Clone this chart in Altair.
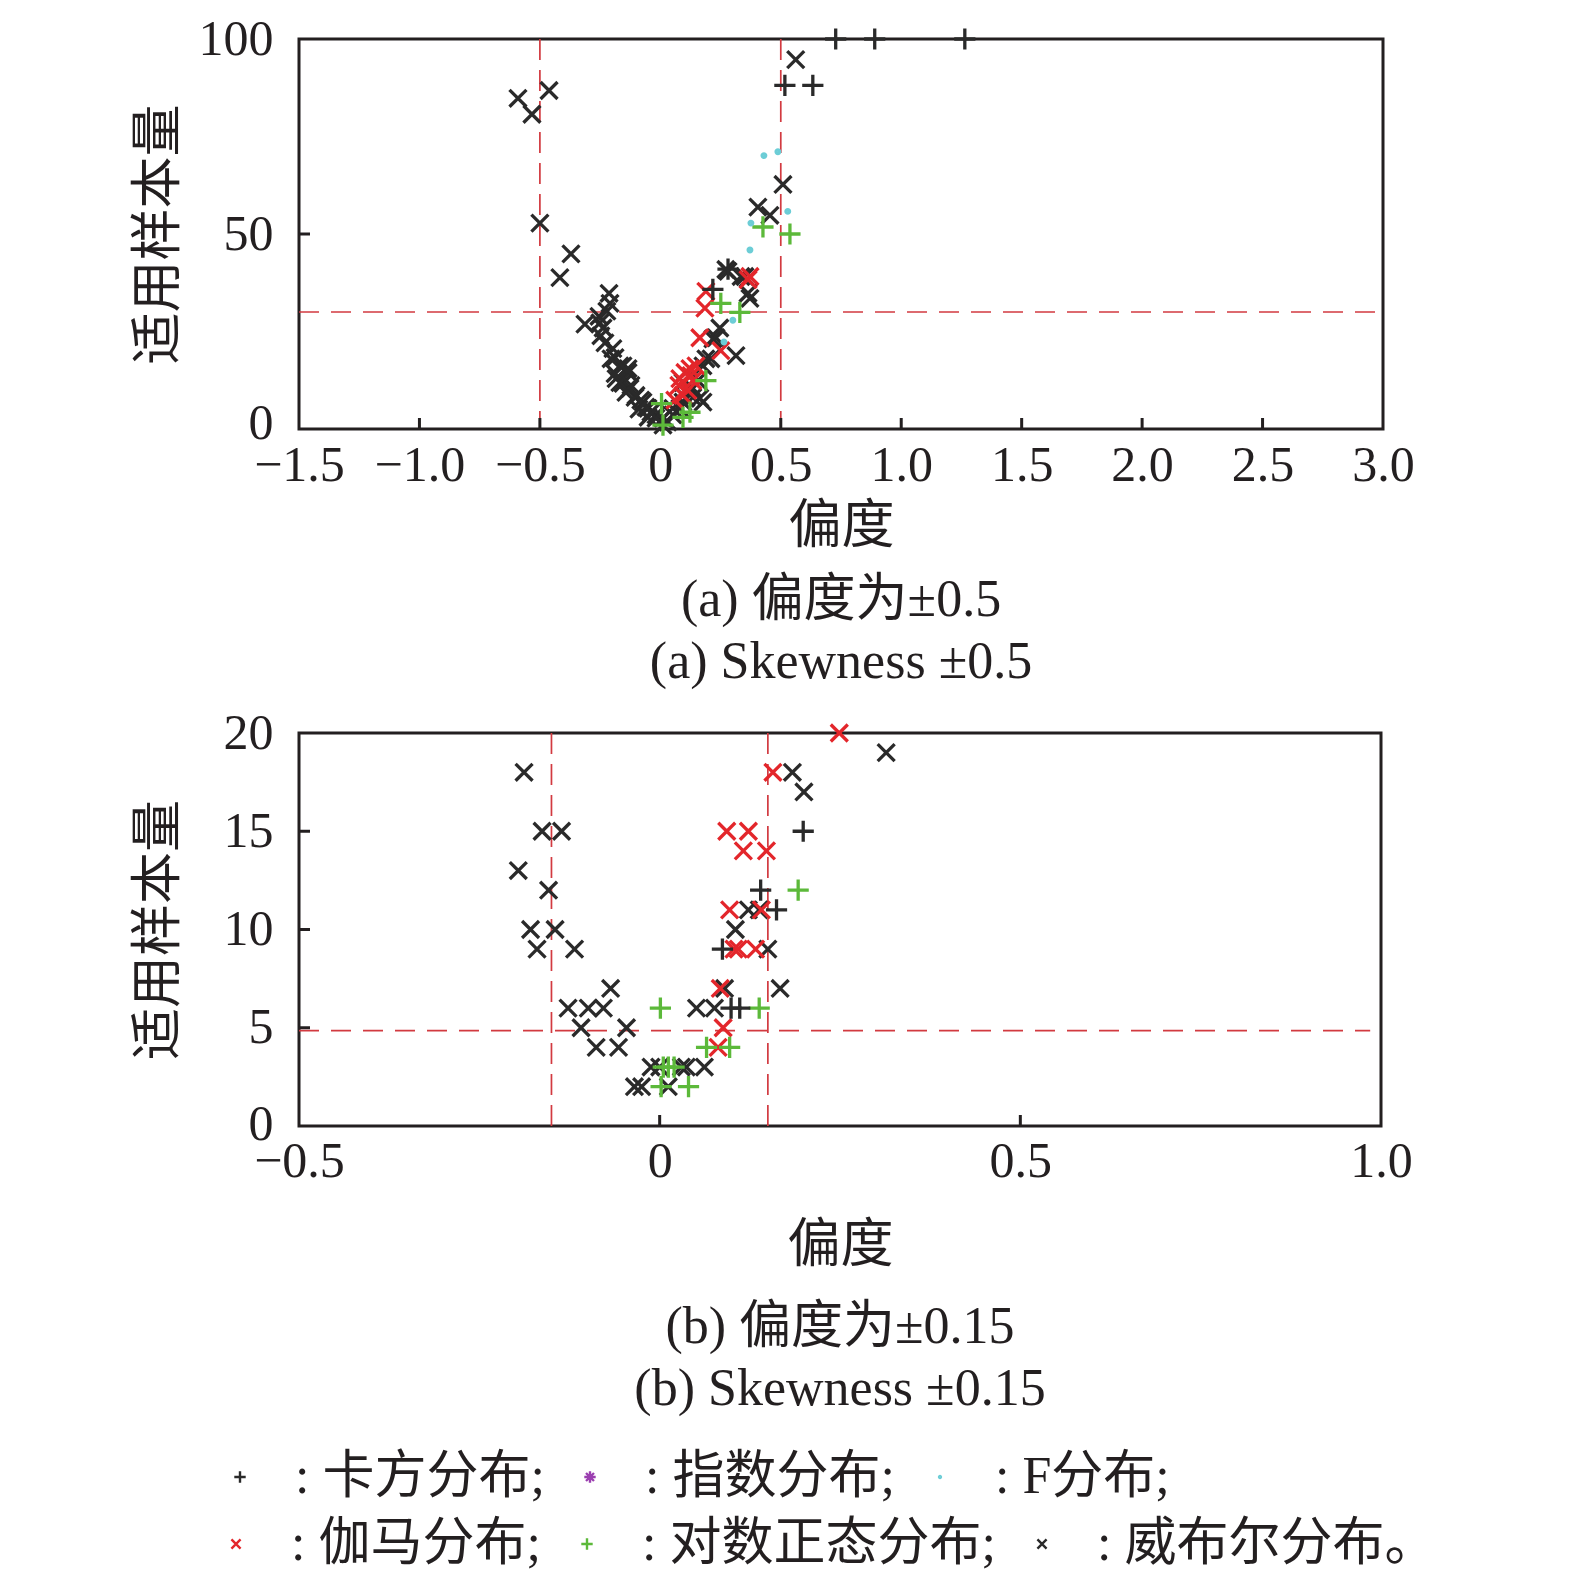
import altair as alt
import pandas as pd

# ---------------- data ----------------
DISTS = ["卡方分布", "指数分布", "F分布", "伽马分布", "对数正态分布", "威布尔分布"]
ROW1 = ["卡方分布", "指数分布", "F分布"]
ROW2 = ["伽马分布", "对数正态分布", "威布尔分布"]

# (a) skewness ±0.5
A_CHI = [(0.517, 88.1), (0.633, 88.1), (0.728, 100), (0.890, 100), (1.264, 100),
         (0.281, 41.0), (0.218, 35.8)]
A_F = [(0.430, 70.1), (0.488, 71.1), (0.376, 52.8), (0.529, 55.8), (0.372, 45.9),
       (0.301, 27.9), (0.264, 22.3)]
A_GAMMA = [(0.189, 35.3), (0.185, 31.0), (0.164, 23.4), (0.251, 20.1), (0.102, 14.5),
           (0.127, 13.7), (0.081, 12.9), (0.148, 16.2), (0.372, 39.1), (0.094, 8.6),
           (0.114, 9.9), (0.077, 11.2), (0.060, 7.4), (0.364, 38.3), (0.123, 15.5),
           (0.135, 12.4)]
A_LOGN = [(0.251, 32.2), (0.330, 29.9), (0.426, 51.8), (0.538, 50.0), (0.189, 12.4),
          (0.005, 6.5), (0.123, 4.3), (0.094, 3.0), (0.011, 1.0)]
A_WEIB = [(-0.591, 84.8), (-0.533, 80.7), (-0.462, 86.8), (-0.500, 52.8), (-0.371, 44.9),
          (-0.417, 38.8), (-0.213, 34.8), (-0.313, 26.9), (0.562, 94.7), (0.509, 62.7),
          (0.405, 56.9), (0.455, 54.8), (0.314, 18.8), (0.281, 40.4), (0.335, 39.1),
          (0.364, 34.8), (-0.209, 32.2), (-0.251, 27.2), (-0.238, 25.9), (-0.230, 22.1),
          (-0.188, 18.3), (-0.168, 16.2), (-0.134, 15.5), (-0.184, 12.9), (-0.155, 11.7),
          (-0.126, 10.4), (-0.105, 8.1), (-0.072, 6.9), (-0.051, 5.3), (-0.018, 3.6),
          (0.011, 2.8), (0.052, 5.3), (0.094, 6.9), (0.123, 10.4), (0.164, 7.9),
          (0.177, 16.2), (0.210, 18.0), (0.231, 23.4), (0.247, 25.9), (0.372, 33.5),
          (-0.205, 18.0), (-0.155, 16.2), (-0.188, 14.2), (-0.134, 14.5), (-0.168, 11.9),
          (-0.122, 11.2), (-0.143, 9.4), (-0.101, 8.6), (-0.081, 7.4), (-0.060, 5.6),
          (-0.039, 4.3), (-0.018, 2.8), (0.011, 1.0), (0.052, 3.6), (0.081, 5.3),
          (0.106, 7.9), (0.135, 10.4), (0.177, 6.9), (0.189, 18.0), (0.094, 11.9),
          (-0.255, 28.9), (-0.222, 30.2), (-0.247, 23.9), (-0.197, 20.6), (0.031, 1.8),
          (-0.051, 3.0), (-0.089, 5.1), (0.135, 8.1), (0.156, 12.4), (0.272, 40.9),
          (0.351, 39.1), (0.218, 23.1)]

# (b) skewness ±0.15
B_CHI = [(0.199, 15), (0.140, 12), (0.162, 11), (0.087, 9), (0.099, 6), (0.111, 6)]
B_GAMMA = [(0.249, 20), (0.157, 18), (0.093, 15), (0.123, 15), (0.116, 14), (0.148, 14),
           (0.097, 11), (0.141, 11), (0.103, 9), (0.109, 9), (0.133, 9), (0.084, 7),
           (0.088, 5), (0.081, 4)]
B_LOGN = [(0.192, 12), (0.001, 6), (0.138, 6), (0.065, 4), (0.097, 4), (0.005, 3),
          (0.012, 3), (0.020, 3), (0.002, 2), (0.040, 2)]
B_WEIB = [(-0.188, 18), (-0.163, 15), (-0.136, 15), (-0.196, 13), (-0.154, 12),
          (-0.179, 10), (-0.145, 10), (-0.170, 9), (-0.118, 9), (-0.068, 7),
          (-0.127, 6), (-0.099, 6), (-0.078, 6), (-0.109, 5), (-0.046, 5),
          (-0.088, 4), (-0.057, 4), (-0.035, 2), (-0.025, 2), (-0.012, 3),
          (0.000, 3), (0.030, 3), (0.037, 3), (0.062, 3), (0.012, 2),
          (0.051, 6), (0.076, 6), (0.090, 7), (0.105, 10), (0.123, 11),
          (0.138, 11), (0.150, 9), (0.167, 7), (0.184, 18), (0.200, 17), (0.314, 19)]

A_VLINES = [-0.5, 0.5]
A_HLINE = 30
B_VLINES = [-0.15, 0.15]
B_HLINE = 4.85

A_XTICKS = [-1.5, -1.0, -0.5, 0.0, 0.5, 1.0, 1.5, 2.0, 2.5, 3.0]
A_YTICKS = [0, 50, 100]
B_XTICKS = [-0.5, 0.0, 0.5, 1.0]
B_YTICKS = [0, 5, 10, 15, 20]

# ---------------- styles ----------------
COLORS = ["#2a2a2a", "#9b3fb0", "#6ccdd6", "#e3262b", "#5cb93a", "#2a2a2a"]
PLUS = "M-1,0L1,0M0,-1L0,1"
CROSS = "M-0.8,-0.8L0.8,0.8M-0.8,0.8L0.8,-0.8"
STAR = "M-1,0L1,0M0,-1L0,1M-0.7,-0.7L0.7,0.7M-0.7,0.7L0.7,-0.7"
DOT = "M-0.17,0A0.17,0.17 0 1,0 0.17,0A0.17,0.17 0 1,0 -0.17,0Z"
SHAPES = [PLUS, STAR, DOT, CROSS, PLUS, CROSS]
FONT = "Liberation Serif, Noto Sans CJK SC"
RED = "#d23a40"
FRAME = "#231f20"

COLOR_OF = dict(zip(DISTS, COLORS))
SHAPE_OF = dict(zip(DISTS, SHAPES))


def frame(groups):
    rows = []
    for name, pts in groups:
        for x, y in pts:
            rows.append({"x": x, "y": y, "dist": name})
    return pd.DataFrame(rows)


df_a = frame([("威布尔分布", A_WEIB), ("伽马分布", A_GAMMA), ("对数正态分布", A_LOGN),
              ("F分布", A_F), ("卡方分布", A_CHI)])
df_b = frame([("威布尔分布", B_WEIB), ("伽马分布", B_GAMMA), ("对数正态分布", B_LOGN),
              ("卡方分布", B_CHI)])

label_expr = "datum.value == 0 ? '0' : format(datum.value, '.1f')"

color = alt.Color("dist:N", scale=alt.Scale(domain=DISTS, range=COLORS), legend=None)
shape = alt.Shape("dist:N", scale=alt.Scale(domain=DISTS, range=SHAPES), legend=None)


def panel(df, xdom, ydom, xticks, yticks, vlines, hline, hline_end, inner_x, inner_y,
          caption, x_lab_pad, x_title_pad, cap_offset, zero_off, w, h):
    xs = alt.Scale(domain=xdom, nice=False, zero=False)
    ys = alt.Scale(domain=ydom, nice=False, zero=False)
    xax = alt.Axis(values=xticks, labelExpr=label_expr, title="偏度", ticks=False, tickSize=0,
                   domain=False, grid=False, labelPadding=x_lab_pad,
                   titlePadding=x_title_pad, labelFlush=False, labelOverlap=False,
                   labelFont=FONT, labelFontSize=50, labelColor=FRAME, titleFont=FONT,
                   titleFontSize=53, titleColor=FRAME, titleFontWeight="normal")
    yax = alt.Axis(values=yticks, title="适用样本量", ticks=False, tickSize=0, domain=False,
                   grid=False, labelPadding=26,
                   labelOffset={"condition": {"test": "datum.value == 0", "value": zero_off},
                                "value": 0},
                   titleX=-141, titleY=h / 2, titleBaseline="middle", titleAlign="center",
                   labelFlush=False, labelOverlap=False, labelFont=FONT, labelFontSize=50,
                   labelColor=FRAME, titleFont=FONT, titleFontSize=52, titleColor=FRAME,
                   titleFontWeight="normal")
    pts = alt.Chart(df).mark_point(filled=False, strokeWidth=3.3, size=450, opacity=1,
                                   clip=False).encode(
        x=alt.X("x:Q", scale=xs, axis=xax),
        y=alt.Y("y:Q", scale=ys, axis=yax),
        color=color, shape=shape,
    )
    vl = alt.Chart(pd.DataFrame({"v": vlines})).mark_rule(
        color=RED, strokeWidth=1.7, strokeDash=[21, 10]).encode(x=alt.X("v:Q", scale=xs))
    hl = alt.Chart().mark_rule(color=RED, strokeWidth=1.7, strokeDash=[20, 12]).encode(
        y=alt.datum(hline, scale=ys), x=alt.datum(xdom[0], scale=xs),
        x2=alt.datum(hline_end))
    xt = alt.Chart(pd.DataFrame({"t": inner_x})).mark_rule(color=FRAME, strokeWidth=3).encode(
        x=alt.X("t:Q", scale=xs), y=alt.datum(ydom[0], scale=ys),
        y2=alt.datum(ydom[0] + (ydom[1] - ydom[0]) * 11 / h))
    yt = alt.Chart(pd.DataFrame({"t": inner_y})).mark_rule(color=FRAME, strokeWidth=3).encode(
        y=alt.Y("t:Q", scale=ys), x=alt.datum(xdom[0], scale=xs),
        x2=alt.datum(xdom[0] + (xdom[1] - xdom[0]) * 11 / w))
    return alt.layer(vl, hl, xt, yt, pts).properties(
        width=w, height=h,
        view=alt.ViewBackground(stroke=FRAME, strokeWidth=3),
        title=alt.TitleParams(text=caption, orient="bottom", anchor="middle", fontSize=52,
                              font=FONT, fontWeight="normal", color=FRAME, lineHeight=62,
                              offset=cap_offset),
    )


top = panel(df_a, [-1.5, 3.0], [0, 100], A_XTICKS, A_YTICKS, A_VLINES, A_HLINE, 2.97,
            [-1.0, -0.5, 0.0, 0.5, 1.0, 1.5, 2.0, 2.5], [50],
            ["(a) 偏度为±0.5", "(a) Skewness ±0.5"], 11, 10, 22, -6, 1084, 390)
bottom = panel(df_b, [-0.5, 1.0], [0, 20], B_XTICKS, B_YTICKS, B_VLINES, B_HLINE, 0.985,
               [0.0, 0.5], [5, 10, 15],
               ["(b) 偏度为±0.15", "(b) Skewness ±0.15"], 10, 33, 30, -2, 1082, 393)


def legend_layer(names, lx, ly, col_pad):
    lg = alt.Legend(
        title=None, orient="none", legendX=lx, legendY=ly, direction="horizontal",
        labelFont=FONT, labelFontSize=52, labelColor=FRAME,
        labelExpr="datum.label == '威布尔分布' ? ': ' + datum.label + '。' : ': ' + datum.label + ';'",
        symbolSize=130, symbolStrokeWidth=2.4, symbolOpacity=1, labelOffset=29,
        columnPadding=col_pad, labelLimit=0, padding=0,
    )
    d = pd.DataFrame({"dist": names})
    return alt.Chart(d).mark_point(filled=False, opacity=0, strokeWidth=2.4).encode(
        color=alt.Color("dist:N", sort=names,
                        scale=alt.Scale(domain=names, range=[COLOR_OF[n] for n in names]),
                        legend=lg),
        shape=alt.Shape("dist:N", sort=names,
                        scale=alt.Scale(domain=names, range=[SHAPE_OF[n] for n in names]),
                        legend=lg),
    )


legend_chart = alt.layer(
    legend_layer(ROW1, -85, 15, 19), legend_layer(ROW2, -89, 82, 20)
).resolve_scale(color="independent", shape="independent").properties(
    width=1084, height=1, view=alt.ViewBackground(stroke="transparent")
)

chart = alt.vconcat(top, bottom, legend_chart, spacing=16).resolve_scale(
    x="independent", y="independent", color="independent", shape="independent"
).properties(
    padding={"left": 122, "top": 4, "right": 10, "bottom": 5}, background="white"
).configure_view(stroke="transparent")

chart.save("out.html", embed_options={"renderer": "svg", "actions": False})
